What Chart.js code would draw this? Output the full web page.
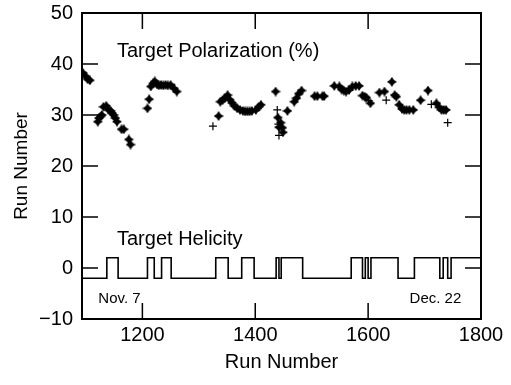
<!DOCTYPE html>
<html>
<head>
<meta charset="utf-8">
<script src="https://cdn.jsdelivr.net/npm/chart.js@4"></script>
<style>
    html, body { margin: 0; padding: 0; background: #fff; }
    canvas { display: block; }
</style>
</head>
<body>
<canvas id="pol-chart" width="511" height="385"></canvas>
<script>
// ------------------------------------------------------
// @Data
// ------------------------------------------------------

const polarRuns = [
    1095, 1099, 1103, 1107, 1121, 1123, 1126, 1128, 1131, 1136, 1140, 1144, 1146, 1149, 1152, 1155,
    1163, 1167, 1176, 1179, 1209, 1212, 1215, 1219, 1222, 1226, 1229, 1233, 1237, 1241, 1245, 1250,
    1256, 1261, 1335, 1338, 1342, 1346, 1351, 1355, 1359, 1363, 1368, 1373, 1378, 1382, 1386, 1390,
    1394, 1401, 1406, 1410, 1436, 1440, 1442, 1445, 1448, 1449, 1457, 1469, 1473, 1477, 1482, 1505,
    1510, 1519, 1522, 1540, 1549, 1553, 1557, 1561, 1566, 1572, 1578, 1584, 1590, 1594, 1597, 1604,
    1620, 1629, 1642, 1647, 1650, 1655, 1660, 1664, 1668, 1673, 1680, 1693, 1706, 1721, 1726, 1730,
    1734, 1738,
];
const polarValues = [
    38.2, 37.6, 37.0, 36.8, 28.7, 29.4, 29.7, 30.0, 31.6, 31.8, 31.0, 30.8, 30.4, 30.0, 29.4, 28.7,
    27.2, 27.2, 25.2, 24.2, 31.3, 33.1, 35.6, 36.2, 36.6, 36.0, 35.8, 35.9, 35.8, 35.9, 35.8, 35.9,
    35.2, 34.6, 29.8, 32.6, 32.9, 33.3, 33.9, 33.0, 32.4, 31.8, 31.3, 31.0, 30.8, 30.7, 30.7, 30.7,
    30.8, 31.0, 31.6, 32.0, 34.6, 29.5, 27.6, 28.5, 27.5, 26.6, 30.8, 32.6, 33.3, 34.2, 34.8, 33.7,
    33.7, 33.7, 33.7, 35.7, 35.6, 35.0, 34.8, 34.6, 34.9, 35.6, 35.7, 35.7, 33.8, 33.6, 33.4, 32.3,
    34.4, 34.6, 36.5, 33.9, 33.6, 32.0, 31.2, 31.0, 31.0, 31.0, 31.0, 32.9, 34.8, 32.3, 31.5, 31.0,
    31.0, 31.0,
];

const hollowRuns   = [1325, 1439, 1441, 1442, 1601, 1632, 1712, 1741];
const hollowValues = [27.8, 31.0, 28.2, 26.0, 32.8, 32.9, 32.1, 28.5];

const helicityRuns = [
    1093, 1137, 1157, 1209, 1221, 1234, 1251, 1330, 1352, 1376, 1398, 1437, 1442, 1446, 1484,
    1570, 1590, 1595, 1600, 1605, 1653, 1682, 1727, 1733, 1741, 1747, 1800,
];
const helicityLevels = [
    -2, 2, -2, 2, -2, 2, -2, 2, -2, 2, -2, 2, -2, 2, -2,
    2, -2, 2, -2, 2, -2, 2, -2, 2, -2, 2, 2,
];

const xTicks = [1200, 1400, 1600, 1800];
const yTicks = [-10, 0, 10, 20, 30, 40, 50];

// ------------------------------------------------------
// @Helpers
// ------------------------------------------------------

const FONT = '"Liberation Sans", Arial, Helvetica, sans-serif';

function starMarker(size) {
    const c = document.createElement('canvas');
    c.width = size;
    c.height = size;
    const ctx = c.getContext('2d');
    const m = size / 2;
    const w = size * 0.2;
    ctx.fillStyle = '#000';
    ctx.beginPath();
    ctx.moveTo(m, 0);
    ctx.lineTo(m + w, m - w);
    ctx.lineTo(size, m);
    ctx.lineTo(m + w, m + w);
    ctx.lineTo(m, size);
    ctx.lineTo(m - w, m + w);
    ctx.lineTo(0, m);
    ctx.lineTo(m - w, m - w);
    ctx.closePath();
    ctx.fill();
    return c;
}

const frame = {
    id: 'frame',
    afterDraw(chart) {
        const { ctx, chartArea: a, scales: { x, y } } = chart;
        const len = 16;
        ctx.save();
        ctx.strokeStyle = '#000';
        ctx.lineWidth = 1.5;
        ctx.beginPath();
        xTicks.forEach(v => {
            const px = x.getPixelForValue(v);
            ctx.moveTo(px, a.bottom); ctx.lineTo(px, a.bottom - len);
            ctx.moveTo(px, a.top);    ctx.lineTo(px, a.top + len);
        });
        yTicks.forEach(v => {
            const py = y.getPixelForValue(v);
            ctx.moveTo(a.left, py);  ctx.lineTo(a.left + len, py);
            ctx.moveTo(a.right, py); ctx.lineTo(a.right - len, py);
        });
        ctx.stroke();
        ctx.lineWidth = 2;
        ctx.strokeRect(a.left, a.top, a.right - a.left, a.bottom - a.top);

        ctx.fillStyle = '#000';
        ctx.textBaseline = 'alphabetic';
        ctx.font = '20px ' + FONT;
        ctx.fillText('Target Polarization (%)', x.getPixelForValue(1155), y.getPixelForValue(41.3));
        ctx.fillText('Target Helicity', x.getPixelForValue(1155), y.getPixelForValue(4.6));
        ctx.font = '15px ' + FONT;
        ctx.fillText('Nov. 7', x.getPixelForValue(1122), y.getPixelForValue(-6.9));
        ctx.textAlign = 'right';
        ctx.fillText('Dec. 22', x.getPixelForValue(1765), y.getPixelForValue(-6.9));
        ctx.restore();
    },
};

// ------------------------------------------------------
// @Chart
// ------------------------------------------------------

const chartBox = document.getElementById('pol-chart');

new Chart(chartBox.getContext('2d'), {
    type: 'scatter',
    data: {
        datasets: [{
            label       : 'Target Polarization',
            data        : polarRuns.map((r, i) => ({ x: r, y: polarValues[i] })),
            pointStyle  : starMarker(10),
            pointRadius : 5,
        }, {
            label           : 'Target Polarization (open)',
            data            : hollowRuns.map((r, i) => ({ x: r, y: hollowValues[i] })),
            pointStyle      : 'cross',
            pointRadius     : 4,
            borderColor     : '#000',
            borderWidth     : 1.2,
        }, {
            type        : 'line',
            label       : 'Target Helicity',
            data        : helicityRuns.map((r, i) => ({ x: r, y: helicityLevels[i] })),
            stepped     : 'before',
            borderColor : '#000',
            borderWidth : 1.6,
            pointRadius : 0,
            fill        : false,
        }],
    },
    options: {
        responsive : false,
        animation  : false,
        layout: {
            padding: { left: 8, right: 30, top: 13, bottom: 10 },
        },
        plugins: {
            legend  : { display: false },
            tooltip : { enabled: false },
        },
        scales: {
            x: {
                type : 'linear',
                min  : 1093,
                max  : 1800,
                grid   : { display: false, drawTicks: false },
                border : { display: false },
                afterBuildTicks: scale => { scale.ticks = xTicks.map(v => ({ value: v })); },
                afterFit: scale => {
                    scale.height = 56;
                    scale.paddingLeft = 0;
                    scale.paddingRight = 0;
                },
                ticks: {
                    color       : '#000',
                    font        : { family: FONT, size: 20 },
                    padding     : 4,
                    maxRotation : 0,
                    autoSkip    : false,
                    callback    : v => String(v),
                },
                title: {
                    display : true,
                    text    : 'Run Number',
                    color   : '#000',
                    font    : { family: FONT, size: 20 },
                    padding : { top: 0, bottom: 1 },
                },
            },
            y: {
                min : -10,
                max : 50,
                grid   : { display: false, drawTicks: false },
                border : { display: false },
                afterBuildTicks: scale => { scale.ticks = yTicks.map(v => ({ value: v })); },
                afterFit: scale => {
                    scale.width = 74;
                    scale.paddingTop = 0;
                    scale.paddingBottom = 0;
                },
                ticks: {
                    color    : '#000',
                    font     : { family: FONT, size: 20 },
                    padding  : 9,
                    callback : v => (v < 0 ? '\u2212' + Math.abs(v) : String(v)),
                },
                title: {
                    display : true,
                    text    : 'Run Number',
                    color   : '#000',
                    font    : { family: FONT, size: 19 },
                    padding : { top: 2, bottom: 0 },
                },
            },
        },
    },
    plugins: [frame],
});
</script>
</body>
</html>
